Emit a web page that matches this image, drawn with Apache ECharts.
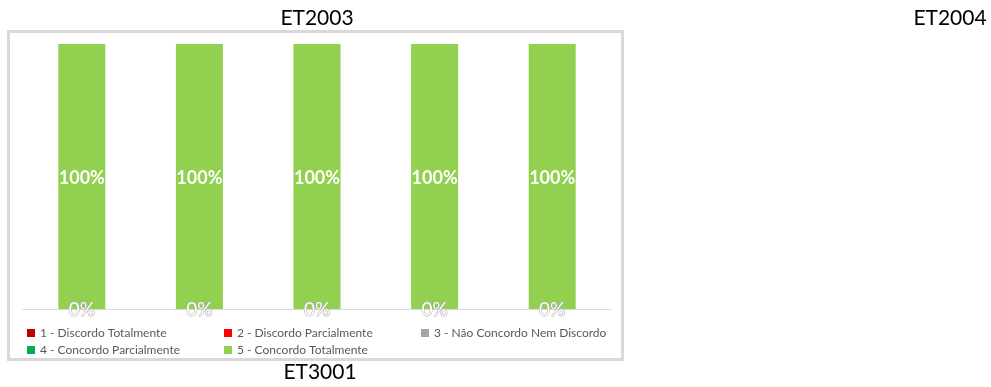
<!DOCTYPE html>
<html>
<head>
<meta charset="utf-8">
<script src="https://cdn.jsdelivr.net/npm/echarts@6/dist/echarts.min.js"></script>
<style>html,body{margin:0;padding:0;background:#fff}#c{width:991px;height:387px}</style>
</head>
<body>
<div id="c"></div>
<script>
var categories = ['Item 1', 'Item 2', 'Item 3', 'Item 4', 'Item 5'];
var seriesNames = ['1 - Discordo Totalmente', '2 - Discordo Parcialmente', '3 - Não Concordo Nem Discordo', '4 - Concordo Parcialmente', '5 - Concordo Totalmente'];
var s1 = [0, 0, 0, 0, 0];
var s2 = [0, 0, 0, 0, 0];
var s3 = [0, 0, 0, 0, 0];
var s4 = [0, 0, 0, 0, 0];
var s5 = [100, 100, 100, 100, 100];
var colors = ['#c00000', '#ff0000', '#a5a5a5', '#00b050', '#92d050'];
var titles = ['ET2003', 'ET2004', 'ET3001'];

var font = 'Lato, "Open Sans", sans-serif';
var chart = echarts.init(document.getElementById('c'));
var data = [s1, s2, s3, s4, s5];
var series = data.map(function (d, i) {
  var isFull = i === 4;
  return {
    name: seriesNames[i],
    type: 'bar',
    stack: 'total',
    barWidth: 47,
    data: d,
    itemStyle: { color: colors[i] },
    label: {
      show: isFull || i === 0,
      position: 'inside',
      offset: isFull ? [0, 2] : [0, 1],
      formatter: '{c}%',
      fontFamily: font,
      fontSize: isFull ? 18 : 19,
      fontWeight: isFull ? 'bold' : 'normal',
      color: '#fff',
      textBorderColor: isFull ? 'transparent' : '#a6a6a6',
      textBorderWidth: isFull ? 0 : 1
    }
  };
});

var legendPos = [[27, 326], [224, 326], [421, 326], [27, 343], [224, 343]];
var legends = seriesNames.map(function (n, i) {
  return {
    data: [n],
    left: legendPos[i][0],
    top: legendPos[i][1],
    padding: 0,
    icon: 'rect',
    itemWidth: 8,
    itemHeight: 8,
    selectedMode: false,
    textStyle: { fontFamily: font, fontSize: 12, color: '#595959', lineHeight: 14 }
  };
});

chart.setOption({
  animation: false,
  color: colors,
  grid: { left: 23, right: 380, top: 44, bottom: 78 },
  xAxis: {
    type: 'category',
    data: categories,
    axisLine: { lineStyle: { color: '#d9d9d9', width: 1 } },
    axisTick: { show: false },
    axisLabel: { show: false }
  },
  yAxis: { type: 'value', min: 0, max: 100, show: false, splitLine: { show: false } },
  legend: legends,
  series: series,
  graphic: [
    { type: 'rect', z: -1, shape: { x: 8.5, y: 31.5, width: 614, height: 328 }, style: { fill: 'none', stroke: '#d9d9d9', lineWidth: 3 } },
    { type: 'text', x: 317, y: 18, style: { text: titles[0], fontFamily: font, fontSize: 21, fill: '#000', textAlign: 'center', textVerticalAlign: 'middle' } },
    { type: 'text', x: 950, y: 18, style: { text: titles[1], fontFamily: font, fontSize: 21, fill: '#000', textAlign: 'center', textVerticalAlign: 'middle' } },
    { type: 'text', x: 320, y: 372, style: { text: titles[2], fontFamily: font, fontSize: 21, fill: '#000', textAlign: 'center', textVerticalAlign: 'middle' } }
  ]
});
</script>
</body>
</html>
